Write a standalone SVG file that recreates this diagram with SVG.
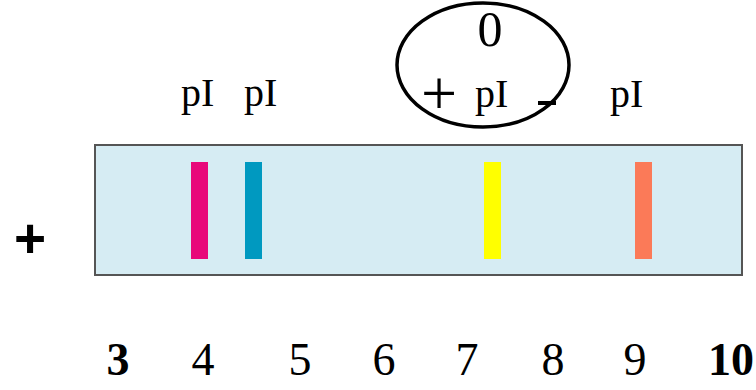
<svg xmlns="http://www.w3.org/2000/svg" width="756" height="390" viewBox="0 0 756 390">
<style>
.t{font-family:"Liberation Serif","Times New Roman",serif;fill:#000}
.pi{font-size:40px}
.num{font-size:46px;text-anchor:middle}
.b{font-weight:bold}
.band{stroke:none}
</style>
<rect width="756" height="390" fill="#fff"/>
<g id="gel">
<rect x="95" y="145" width="647" height="130" fill="#d6ecf3" stroke="#555" stroke-width="2"/>
</g>
<g id="bands">
<rect id="band-pink" class="band" x="191" y="162" width="17" height="97" fill="#e8087a"/>
<rect id="band-blue" class="band" x="245" y="162" width="17" height="97" fill="#0099c0"/>
<rect id="band-yellow" class="band" x="484" y="162" width="17" height="97" fill="#ffff00"/>
<rect id="band-orange" class="band" x="635" y="162" width="17" height="97" fill="#fb7a58"/>
</g>
<g id="anode">
<text x="30" y="257" font-family="Liberation Sans,Arial,sans-serif" font-weight="bold" font-size="55" text-anchor="middle">+</text>
</g>
<g id="labels">
<text class="t pi" x="181" y="106">pI</text>
<text class="t pi" x="244" y="106">pI</text>
<text class="t pi" x="610" y="107">pI</text>
</g>
<g id="pI-zero">
<ellipse cx="483" cy="65" rx="86" ry="62" fill="none" stroke="#000" stroke-width="3.5"/>
<text class="t" x="490" y="46" font-size="50" text-anchor="middle">0</text>
<text class="t" x="439" y="115" font-size="64" text-anchor="middle">+</text>
<text class="t pi" x="475" y="107">pI</text>
<rect x="538" y="101" width="18" height="4" fill="#000"/>
</g>
<g id="scale">
<text class="t num b" x="118" y="375">3</text>
<text class="t num" x="203" y="375">4</text>
<text class="t num" x="300" y="375">5</text>
<text class="t num" x="384" y="375">6</text>
<text class="t num" x="467" y="375">7</text>
<text class="t num" x="553" y="375">8</text>
<text class="t num" x="635" y="375">9</text>
<text class="t num b" x="731" y="375">10</text>
</g>
</svg>
